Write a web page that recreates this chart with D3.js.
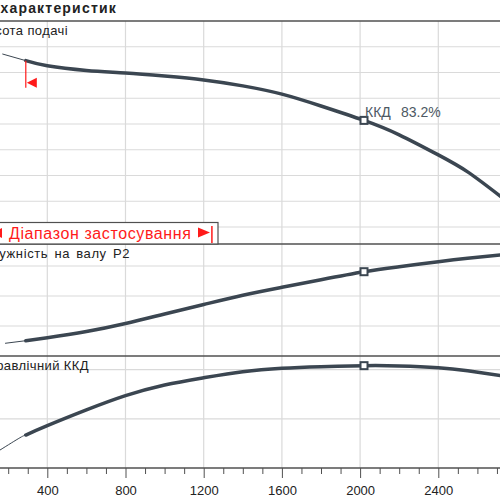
<!DOCTYPE html>
<html>
<head>
<meta charset="utf-8">
<script src="https://cdn.jsdelivr.net/npm/d3@7"></script>
<style>
    body { margin: 0; background: #fff; }
    text { font-family: "Liberation Sans", Arial, sans-serif; }
</style>
</head>
<body>
<svg id="chart" width="500" height="500"></svg>
<script>
// flow values (x) and the three curves
const flowHead = [170, 290, 400, 600, 800, 1000, 1200, 1400, 1600, 1800, 2020, 2200, 2400, 2550, 2720];
const head = [33.6, 32.3, 31.3, 30.4, 29.9, 29.3, 28.55, 27.4, 25.8, 23.5, 20.7, 17.9, 14.0, 10.7, 5.9];

const flowPower = [184, 290, 400, 600, 800, 1000, 1200, 1400, 1600, 1800, 2020, 2200, 2400, 2550, 2720];
const power = [1.27, 1.53, 1.83, 2.45, 3.25, 4.2, 5.15, 6.08, 6.87, 7.63, 8.43, 8.93, 9.43, 9.77, 10.1];

const flowEff = [158, 260, 290, 400, 600, 800, 1000, 1200, 1400, 1600, 1800, 2020, 2200, 2400, 2550, 2720];
const eff = [14.6, 24.6, 26.8, 34.4, 47.2, 58.8, 67.5, 73.4, 78.3, 81.1, 82.4, 83.2, 83.0, 81.6, 79.1, 75.1];

const dutyFlow = 2020;
const rangeStart = 290;
const rangeEnd = 1242;

const headGrid = [0, 5, 10, 15, 20, 25, 30, 35];
const powerGrid = [3, 6, 9];
const effGrid = [40, 80];
const flowGrid = [400, 800, 1200, 1600, 2000, 2400, 2800];

const svg = d3.select("#chart");
const curveColor = "#3b4651";
const gridColor = "#dadada";
const frameColor = "#505050";

const x = d3.scaleLinear().domain([0, 2800]).range([-30.9, 516.5]);
const yHead = d3.scaleLinear().domain([0, 40]).range([227, 21]);
const yPower = d3.scaleLinear().domain([0, 9]).range([356, 266]);
const yEff = d3.scaleLinear().domain([0, 80]).range([468, 369.6]);

// horizontal grid lines per panel
function hgrid(values, scale) {
    svg.append("g").selectAll("line")
        .data(values)
        .enter()
        .append("line")
        .attr("x1", 0).attr("x2", 500)
        .attr("y1", d => scale(d)).attr("y2", d => scale(d))
        .attr("stroke", gridColor).attr("stroke-width", 1.2);
}
hgrid(headGrid, yHead);
hgrid(powerGrid, yPower);
hgrid(effGrid, yEff);

svg.append("g").selectAll("line")
    .data(flowGrid)
    .enter()
    .append("line")
    .attr("x1", d => x(d)).attr("x2", d => x(d))
    .attr("y1", 21).attr("y2", 468)
    .attr("stroke", gridColor).attr("stroke-width", 1.2);

// panel frames
[yHead(40), yPower(0) - 112, yPower(0)].forEach(function (y) {
    svg.append("line")
        .attr("x1", 0).attr("x2", 500)
        .attr("y1", y).attr("y2", y)
        .attr("stroke", frameColor).attr("stroke-width", 1.5);
});

// bottom axis
const axis = d3.axisBottom(x)
    .tickValues(d3.range(100, 2800, 100))
    .tickSize(6)
    .tickFormat(d => d % 400 === 0 ? d : "");
let ax = svg.append("g")
    .attr("transform", "translate(0,468)")
    .call(axis);
ax.select(".domain").remove();
ax.selectAll(".tick line")
    .attr("stroke", frameColor)
    .attr("y2", d => d % 400 === 0 ? 10 : 6);
ax.selectAll(".tick text")
    .attr("y", 27).attr("dy", 0)
    .attr("font-size", 13)
    .attr("font-family", "Liberation Sans, Arial, sans-serif")
    .attr("fill", "#222");
svg.append("line")
    .attr("x1", 0).attr("x2", 500)
    .attr("y1", 468).attr("y2", 468)
    .attr("stroke", frameColor).attr("stroke-width", 1.5);

// curves: thin before the range start, thick after
function drawCurve(flows, values, scale) {
    let pts = flows.map((f, i) => [f, values[i]]);
    let line = d3.line()
        .x(d => x(d[0]))
        .y(d => scale(d[1]))
        .curve(d3.curveNatural);
    svg.append("path")
        .attr("d", line(pts.filter(d => d[0] <= rangeStart)))
        .attr("fill", "none").attr("stroke", curveColor).attr("stroke-width", 1);
    svg.append("path")
        .attr("d", line(pts.filter(d => d[0] >= rangeStart)))
        .attr("fill", "none").attr("stroke", curveColor).attr("stroke-width", 3.5)
        .attr("stroke-linecap", "round");
    let i = flows.indexOf(dutyFlow);
    svg.append("rect")
        .attr("x", x(dutyFlow) - 3.5).attr("y", scale(values[i]) - 3.5)
        .attr("width", 7).attr("height", 7)
        .attr("fill", "#fff").attr("stroke", curveColor).attr("stroke-width", 2);
}
drawCurve(flowHead, head, yHead);
drawCurve(flowPower, power, yPower);
drawCurve(flowEff, eff, yEff);

// duty point label
let dutyY = yHead(head[flowHead.indexOf(dutyFlow)]);
svg.append("text").attr("x", x(dutyFlow) + 1).attr("y", dutyY - 3)
    .attr("font-size", 14).attr("fill", "#4d5863").text("ККД");
svg.append("text").attr("x", x(dutyFlow) + 37).attr("y", dutyY - 3)
    .attr("font-size", 14).attr("fill", "#4d5863")
    .text(eff[flowEff.indexOf(dutyFlow)] + "%");

// red start marker on head curve
let sx = x(rangeStart);
let sy = yHead(head[flowHead.indexOf(rangeStart)]);
svg.append("line")
    .attr("x1", sx).attr("x2", sx)
    .attr("y1", sy).attr("y2", sy + 27)
    .attr("stroke", "#ff1a1a").attr("stroke-width", 1.2);
svg.append("path")
    .attr("d", "M" + (sx + 1) + "," + (sy + 22) + " l10,-5 l0,10 z")
    .attr("fill", "#ff1a1a");

// application range box
svg.append("rect")
    .attr("x", -5).attr("y", 222.5).attr("width", 223).attr("height", 21.5)
    .attr("fill", "#fff").attr("stroke", frameColor).attr("stroke-width", 1.2);
svg.append("path")
    .attr("d", "M2,228 l0,10 l-11,-5 z")
    .attr("fill", "#ff1a1a");
svg.append("text")
    .attr("x", 9).attr("y", 238.5)
    .attr("font-size", 16).attr("letter-spacing", 0.6).attr("fill", "#ff1a1a")
    .text("Діапазон застосування");
svg.append("path")
    .attr("d", "M198,227.5 l12,5 l-12,5 z")
    .attr("fill", "#ff1a1a");
svg.append("line")
    .attr("x1", x(rangeEnd)).attr("x2", x(rangeEnd))
    .attr("y1", 226).attr("y2", 243)
    .attr("stroke", "#ff1a1a").attr("stroke-width", 1.5);

// titles
svg.append("text").attr("x", 117).attr("y", 12.5)
    .attr("text-anchor", "end").attr("font-size", 14).attr("font-weight", "bold")
    .attr("letter-spacing", 1.2)
    .attr("fill", "#222").text("Графік характеристик");
svg.append("text").attr("x", 68).attr("y", 35)
    .attr("text-anchor", "end").attr("font-size", 13).attr("letter-spacing", 0.4)
    .attr("fill", "#222").text("Висота подачі");
svg.append("text").attr("x", 130).attr("y", 258)
    .attr("text-anchor", "end").attr("font-size", 13).attr("letter-spacing", 0.6)
    .attr("word-spacing", 2)
    .attr("fill", "#222").text("Потужність на валу P2");
svg.append("text").attr("x", 89).attr("y", 370)
    .attr("text-anchor", "end").attr("font-size", 13).attr("letter-spacing", 0.4)
    .attr("fill", "#222").text("Гідравлічний ККД");
</script>
</body>
</html>
